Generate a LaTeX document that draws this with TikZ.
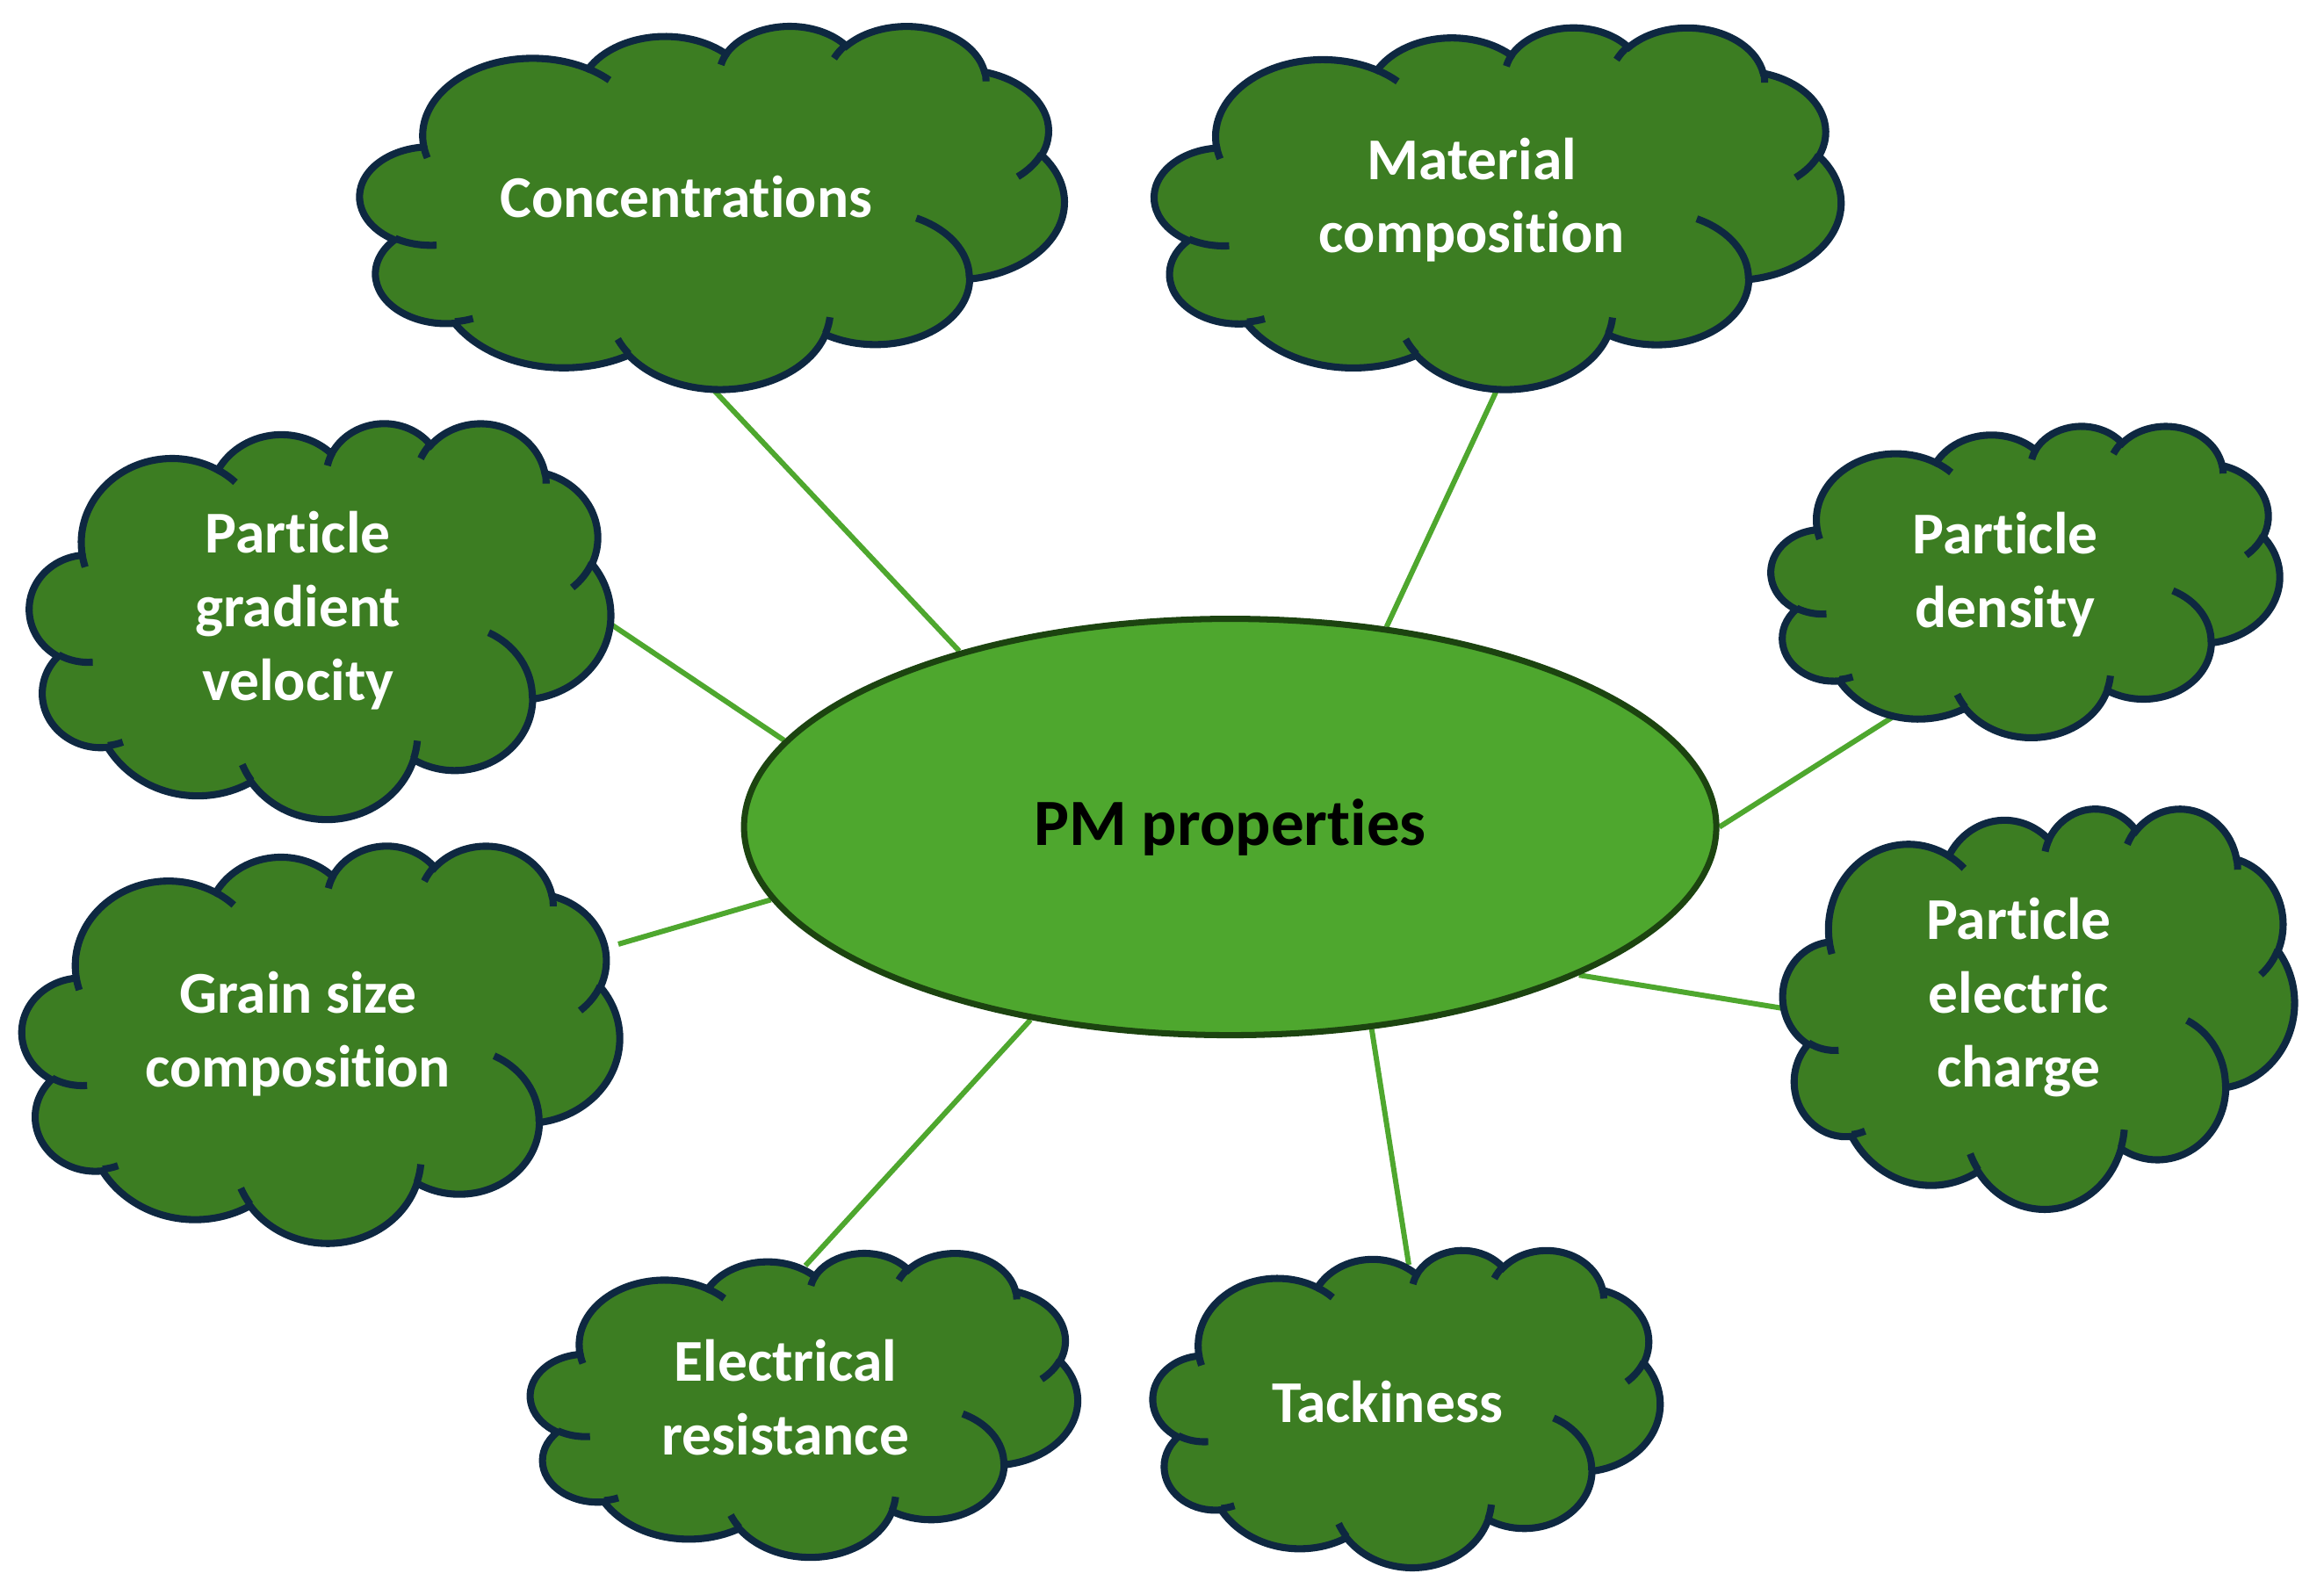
\documentclass[tikz,border=0pt]{standalone}
\usepackage{fontspec}
\setmainfont{Carlito}[Ligatures=NoCommon, RawFeature={-liga;-clig;-calt}]
\usetikzlibrary{shapes.geometric}
\definecolor{cloudfill}{HTML}{3C7D22}
\definecolor{cloudedge}{HTML}{0E2841}
\definecolor{pmfill}{HTML}{4EA72E}
\definecolor{pmedge}{HTML}{1C4410}
\definecolor{connc}{HTML}{4EA72E}
\pgfdeclarelayer{lines}
\pgfdeclarelayer{clouds}
\pgfsetlayers{lines,clouds,main}
% arc from OOXML visual angles -> TikZ parametric angles
\newcommand\mkarc[5]{%
  \pgfmathsetmacro\mka{#4}%
  \pgfmathsetmacro\mkb{#4+#5}%
  \pgfmathsetmacro\mkta{atan2(#2*sin(\mka),#3*cos(\mka))}%
  \pgfmathsetmacro\mktb{atan2(#2*sin(\mkb),#3*cos(\mkb))}%
  \pgfmathsetmacro\mktb{\mkta+Mod(\mktb-\mkta,360)}%
  \xdef#1{ arc[x radius=#2, y radius=#3, start angle=\mkta, end angle=\mktb]}%
}
\mkarc\oA{6.753}{9.190}{-190.487483}{123.780533}
\mkarc\oB{5.333}{7.267}{-144.102383}{89.945233}
\mkarc\oC{4.365}{5.945}{-145.807917}{99.723017}
\mkarc\oD{4.857}{6.595}{-130.986067}{117.241733}
\mkarc\oE{5.333}{7.273}{-78.708883}{109.026917}
\mkarc\oF{6.775}{9.220}{-46.26725}{130.269}
\mkarc\oG{5.785}{7.867}{0.625017}{114.033333}
\mkarc\oH{6.752}{9.215}{22.4516}{115.17255}
\mkarc\oI{7.720}{10.543}{66.242633}{75.711017}
\mkarc\oJ{4.360}{5.918}{-274.942083}{146.735567}
\mkarc\oK{4.345}{5.945}{-246.8285}{152.51885}
\mkarc\iA{4.345}{5.945}{86.742}{26.4295}
\mkarc\iB{4.360}{5.918}{73.610467}{11.447467}
\mkarc\iC{6.752}{9.215}{137.62415}{14.0811}
\mkarc\iD{6.752}{9.215}{6.453267}{15.99835}
\mkarc\iE{5.785}{7.867}{-70.29235}{70.917367}
\mkarc\iF{5.333}{7.273}{30.318033}{27.7515}
\mkarc\iG{4.857}{6.595}{-13.744333}{14.8589}
\mkarc\iH{4.857}{6.595}{-149.18145}{18.195367}
\mkarc\iI{4.365}{5.945}{-163.494267}{17.68635}
\mkarc\iJ{6.753}{9.190}{-66.70695}{12.31935}
\mkarc\iK{6.753}{9.190}{157.65435}{11.853933}
% cloud: top-left x, top-left y, width, height
\newcommand\cloudat[4]{%
  \begin{scope}[shift={(#1,#2)}, xscale=#3/43.2, yscale=-#4/43.2]
    \filldraw[cloudbody] (3.9,14.37)\oA\oB\oC\oD\oE\oF\oG\oH\oI\oJ\oK -- cycle;
    \draw[cloudbody, fill=none] (4.693,26.177)\iA (6.928,34.899)\iB (16.478,39.090)\iC
      (28.827,34.751)\iD (34.129,22.954)\iE (41.798,15.354)\iF (38.324,5.426)\iG
      (29.078,3.952)\iH (22.141,4.720)\iI (14.000,5.192)\iJ (4.127,15.789)\iK;
  \end{scope}}
\tikzset{
  cloudbody/.style={draw=cloudedge, fill=cloudfill, line width=2.3pt},
  cloudtext/.style={text=white, font=\fontsize{19.2}{23.8}\selectfont\bfseries, align=center, inner sep=0pt},
  pmnode/.style={ellipse, draw=pmedge, fill=pmfill, line width=2pt, minimum width=11.07cm, minimum height=4.74cm, inner sep=0pt, font=\fontsize{21.4}{26}\selectfont\bfseries},
  conn/.style={draw=connc, line width=1.7pt}
}
\begin{document}
\begin{tikzpicture}
\useasboundingbox (0,0) rectangle (26.46,18.08);
\begin{pgfonlayer}{lines}
  \fill[white] (0,0) rectangle (26.46,18.08);
\end{pgfonlayer}
\node[pmnode] (pm) at (14.006,8.664) {PM properties};
\node[cloudtext] (c1) at (7.813,15.836) {Concentrations};
\node[cloudtext] (c2) at (16.757,15.802) {Material\\composition};
\node[cloudtext] (c3) at (3.392,11.128) {Particle\\gradient\\velocity};
\node[cloudtext] (c4) at (22.832,11.541) {Particle\\density};
\node[cloudtext] (c5) at (3.392,6.31) {Grain size\\composition};
\node[cloudtext] (c6) at (22.984,6.723) {Particle\\electric\\charge};
\node[cloudtext] (c7) at (8.944,2.167) {Electrical\\resistance};
\node[cloudtext] (c8) at (15.795,2.116) {Tackiness};
\coordinate (e1) at (8.05,13.72);
\coordinate (e2) at (17.08,13.72);
\coordinate (e3) at (6.87,11.03);
\coordinate (e4) at (21.65,9.98);
\coordinate (e5) at (7.04,7.33);
\coordinate (e6) at (20.42,6.58);
\coordinate (e7) at (9.17,3.67);
\coordinate (e8) at (16.04,3.68);
\begin{pgfonlayer}{lines}
  \draw[conn] (pm.147.75) -- (e1);
  \draw[conn] (pm.52.7) -- (e2);
  \draw[conn] (pm.169.1) -- (e3);
  \draw[conn] (pm.-0.5) -- (e4);
  \draw[conn] (pm.189) -- (e5);
  \draw[conn] (pm.-23.4) -- (e6);
  \draw[conn] (pm.224.6) -- (e7);
  \draw[conn] (pm.-55) -- (e8);
\end{pgfonlayer}
\begin{pgfonlayer}{clouds}
  \cloudat{4.10}{17.793}{8.016}{4.134}
  \cloudat{13.146}{17.776}{7.813}{4.117}
  \cloudat{0.3375}{13.271}{6.615}{4.506}
  \cloudat{20.166}{13.237}{5.788}{3.544}
  \cloudat{0.253}{8.461}{6.801}{4.522}
  \cloudat{20.301}{8.883}{5.822}{4.556}
  \cloudat{6.041}{3.821}{6.227}{3.460}
  \cloudat{13.129}{3.854}{5.771}{3.611}
\end{pgfonlayer}
\end{tikzpicture}
\end{document}
